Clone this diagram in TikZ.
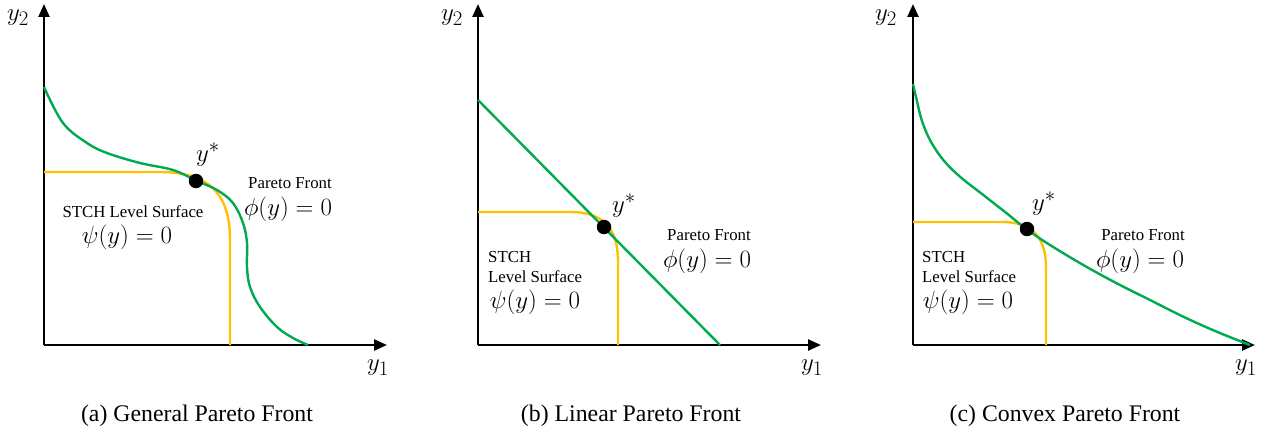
\documentclass[tikz,border=0pt]{standalone}
\usepackage{fontspec}
\setmainfont{Liberation Serif}
\usetikzlibrary{arrows.meta}
\definecolor{pgreen}{RGB}{0,170,80}
\definecolor{porange}{RGB}{255,192,0}
\tikzset{
  axis/.style={line width=2.4pt, -{Triangle[length=13pt,width=11pt]}},
  front/.style={pgreen, line width=2.4pt},
  level/.style={porange, line width=2.4pt},
  sol/.style={circle, fill=black, inner sep=0pt, minimum size=14.5pt},
  lbl/.style={inner sep=0pt, font=\fontsize{16.8}{19}\selectfont},
  mlbl/.style={inner sep=0pt, font=\fontsize{24}{28}\selectfont},
  albl/.style={inner sep=0pt, font=\fontsize{28}{32}\selectfont},
  captext/.style={inner sep=0pt, font=\fontsize{23.8}{28}\selectfont}
}
\begin{document}
\begin{tikzpicture}[x=1pt,y=-1pt]
\useasboundingbox (0,0) rectangle (1269,436);
% ---------------- (a) ----------------
\coordinate (oa) at (44,345);
\coordinate (xa) at (387,345);
\coordinate (ya) at (44,4);
\draw[axis] (oa) -- (xa);
\draw[axis] (oa) -- (ya);
\node[albl] (y2a) at (18,18) {$y_2$};
\node[albl] (y1a) at (378,368) {$y_1$};
\draw[level] (44,172) -- (160,172) .. controls (215,172) and (230,200) .. (230,240) -- (230,345);
\draw[front] plot[smooth, tension=0.6] coordinates {(44,87) (63,123) (87,143) (107,153) (140,163) (173,170) (197,181) (217,190) (233,203) (243,223) (247,243) (247,267) (250,287) (260,307) (277,327) (293,338) (308,345)};
\node[sol] (sa) at (196,181) {};
\node[albl] (ysa) at (208,155) {$y^*$};
\node[lbl] (pfa) at (290,183) {Pareto Front};
\node[mlbl] (phia) at (288,209) {$\phi(y)=0$};
\node[lbl] (sta) at (133,212) {STCH Level Surface};
\node[mlbl] (psia) at (127,237) {$\psi(y)=0$};
\node[captext] (capa) at (197,416) {(a) General Pareto Front};
% ---------------- (b) ----------------
\coordinate (ob) at (478,345);
\coordinate (xb) at (821,345);
\coordinate (yb) at (478,4);
\draw[axis] (ob) -- (xb);
\draw[axis] (ob) -- (yb);
\node[albl] (y2b) at (452,18) {$y_2$};
\node[albl] (y1b) at (812,368) {$y_1$};
\draw[level] (478,212) -- (570,212) .. controls (605,212) and (618,230) .. (618,262) -- (618,345);
\coordinate (gb1) at (478,100);
\coordinate (gb2) at (720,345);
\draw[front] (gb1) -- (gb2);
\node[sol] (sb) at (604,227) {};
\node[albl] (ysb) at (624,206) {$y^*$};
\node[lbl] (pfb) at (709,235) {Pareto Front};
\node[mlbl] (phib) at (707,261) {$\phi(y)=0$};
\node[lbl, anchor=west] (stb) at (488,257) {STCH};
\node[lbl, anchor=west] (lvb) at (488,277) {Level Surface};
\node[mlbl] (psib) at (535,302) {$\psi(y)=0$};
\node[captext] (capb) at (631,416) {(b) Linear Pareto Front};
% ---------------- (c) ----------------
\coordinate (oc) at (913,345);
\coordinate (xc) at (1255,345);
\coordinate (yc) at (913,4);
\draw[axis] (oc) -- (xc);
\draw[axis] (oc) -- (yc);
\node[albl] (y2c) at (886,18) {$y_2$};
\node[albl] (y1c) at (1246,368) {$y_1$};
\draw[level] (913,222) -- (1002,222) .. controls (1035,222) and (1046,240) .. (1046,268) -- (1046,345);
\draw[front] plot[smooth, tension=0.6] coordinates {(913,84) (916.7,100) (921.7,120) (930,140) (943.3,160) (960,176.7) (983.3,195) (1006.7,213.3) (1026.7,229.3) (1050,245) (1083.3,265) (1116.7,283.3) (1150,300) (1183.3,316.7) (1216.7,331.7) (1250,345)};
\node[sol] (sc) at (1027,229) {};
\node[albl] (ysc) at (1044,204) {$y^*$};
\node[lbl] (pfc) at (1143,235) {Pareto Front};
\node[mlbl] (phic) at (1140,261) {$\phi(y)=0$};
\node[lbl, anchor=west] (stc) at (922,257) {STCH};
\node[lbl, anchor=west] (lvc) at (922,277) {Level Surface};
\node[mlbl] (psic) at (968,302) {$\psi(y)=0$};
\node[captext] (capc) at (1065,416) {(c) Convex Pareto Front};
\end{tikzpicture}
\end{document}
